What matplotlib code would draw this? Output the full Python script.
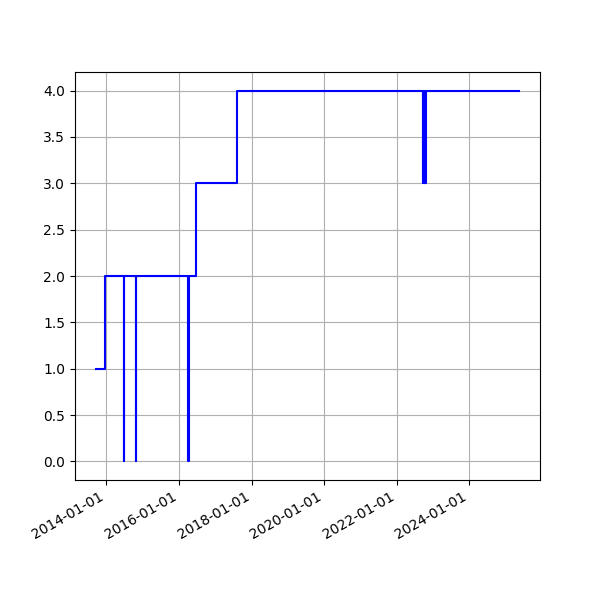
import matplotlib
matplotlib.use("Agg")
import matplotlib.pyplot as plt
import matplotlib.dates as mdates
import pandas as pd

change_dates = [
    "2013-09-20", "2013-12-20",
    "2014-06-26", "2014-06-30",
    "2014-10-25", "2014-10-29",
    "2016-04-03", "2016-04-07",
    "2016-06-21", "2017-08-10",
    "2022-09-22", "2022-09-26", "2022-09-30", "2022-10-04",
    "2022-10-08", "2022-10-12", "2022-10-16", "2022-10-20",
    "2025-05-15",
]
values = [
    1, 2,
    0, 2,
    0, 2,
    0, 2,
    3, 4,
    3, 4, 3, 4,
    3, 4, 3, 4,
    4,
]

dates = pd.to_datetime(change_dates)

fig, ax = plt.subplots(figsize=(6, 6), dpi=100)
ax.plot(dates, values, color="blue", drawstyle="steps-post")
ax.grid(True)
ax.xaxis.set_major_locator(mdates.YearLocator(2))
ax.xaxis.set_major_formatter(mdates.DateFormatter("%Y-%m-%d"))
fig.autofmt_xdate()
fig.savefig("out.png", dpi=100)
